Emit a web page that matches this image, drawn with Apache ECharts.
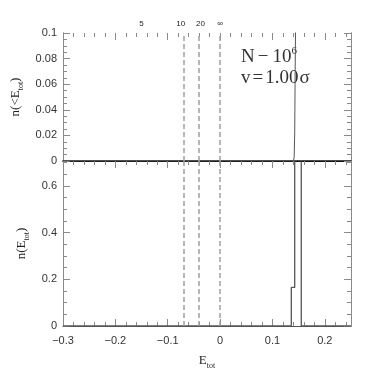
<!DOCTYPE html>
<html><head><meta charset="utf-8">
<script src="https://cdn.jsdelivr.net/npm/echarts@6/dist/echarts.min.js"></script>
<style>html,body{margin:0;padding:0;background:#fff}#c{width:371px;height:371px}</style>
</head><body><div id="c"></div>
<script>
// ---- data ----
const cumE = [-0.3, 0.1400, 0.1415, 0.1425, 0.1432, 0.1440, 0.1450];
const cumN = [0, 0, 0.003, 0.022, 0.06, 0.1, 0.2];
const histEdges = [-0.3, 0.136, 0.1425, 0.155, 0.25];
const histVals = [0, 0.165, 0.83, 0];
const dashE = [-0.075, -0.0375, 0];
const topLabelE = [-0.15, -0.075, -0.0375, 0];
const topLabelText = ['5', '10', '20', '\u221E'];
const annot1 = ['N', '\u2212', '10'];
const annot1Sup = '6';
const annot2 = ['v', '=', '1.00', '\u03C3'];

const xMin = -0.3, xMax = 0.25;
const tickCol = '#8a8a8a', lblCol = '#333';
const sans = 'Liberation Sans';

function fmt(v){ if (Math.abs(v) < 1e-9) return '0'; return String(+v.toFixed(3)).replace('-', '\u2212'); }

function xa(grid, pos, interval, len, extra){
  return Object.assign({
    type:'value', gridIndex:grid, position:pos, min:xMin, max:xMax, interval:interval,
    axisLine:{show:false, onZero:false},
    axisTick:{show:len>0, inside:true, length:len, lineStyle:{color:tickCol}},
    axisLabel:{show:false}, splitLine:{show:false}
  }, extra||{});
}
function ya(grid, pos, max, interval, len, extra){
  return Object.assign({
    type:'value', gridIndex:grid, position:pos, min:0, max:max, interval:interval,
    axisLine:{show:true, onZero:false, lineStyle:{color:tickCol}},
    axisTick:{show:true, inside:true, length:len, lineStyle:{color:tickCol}},
    axisLabel:{show:false}, splitLine:{show:false}
  }, extra||{});
}
const nameRich = {
  n:{fontFamily:'Liberation Serif', fontSize:13, color:'#222', lineHeight:18},
  s:{fontFamily:'Liberation Serif', fontSize:8, color:'#222', lineHeight:18, verticalAlign:'bottom'}
};
const yLbl = {show:true, color:lblCol, fontFamily:sans, fontSize:11, margin:6, showMaxLabel:true, formatter:fmt};
const serifTok = {fontFamily:'Liberation Serif', fontSize:19, fill:'#333', lineHeight:22};

const option = {
  animation:false,
  backgroundColor:'#fff',
  grid:[
    {left:63, right:20, top:33, height:128},
    {left:63, right:20, top:161, height:167}
  ],
  xAxis:[
    xa(0,'bottom',0.1,0,{axisLine:{show:true,onZero:false,lineStyle:{color:'#111',width:1.5}}}),
    xa(0,'top',0.1,7),
    xa(0,'top',0.02,4),
    xa(0,'top',0.1,0,{axisLabel:{show:true, customValues:topLabelE, margin:5, fontFamily:sans, fontSize:8, color:'#222',
        formatter:function(v){ const i = topLabelE.findIndex(t=>Math.abs(t-v)<1e-6); return i>=0?topLabelText[i]:''; }}}),
    xa(1,'bottom',0.1,7,{axisLine:{show:true,onZero:false,lineStyle:{color:'#555'}},
        axisLabel:{show:true, color:lblCol, fontFamily:sans, fontSize:11, margin:9, showMaxLabel:false, formatter:fmt},
        name:'{n|E}{s|tot}', nameLocation:'middle', nameGap:26, nameTextStyle:{rich:nameRich}}),
    xa(1,'bottom',0.02,4),
    xa(1,'top',0.1,7,{axisLine:{show:true,onZero:false,lineStyle:{color:'#111',width:1}}}),
    xa(1,'top',0.02,4)
  ],
  yAxis:[
    ya(0,'left',0.1,0.02,7,{axisLabel:yLbl, name:'{n|n(<E}{s|tot}{n|)}', nameLocation:'middle', nameGap:30, nameTextStyle:{rich:nameRich}}),
    ya(0,'left',0.1,0.005,4),
    ya(0,'right',0.1,0.02,7),
    ya(0,'right',0.1,0.005,4),
    ya(1,'left',0.706,0.2,7,{axisLabel:Object.assign({},yLbl,{showMaxLabel:false}), name:'{n|n(E}{s|tot}{n|)}', nameLocation:'middle', nameGap:29, nameTextStyle:{rich:nameRich}}),
    ya(1,'left',0.706,0.05,4),
    ya(1,'right',0.706,0.2,7),
    ya(1,'right',0.706,0.05,4)
  ],
  series:[
    {type:'line', xAxisIndex:0, yAxisIndex:0, symbol:'none', clip:true,
     data:cumE.map((e,i)=>[e,cumN[i]]), lineStyle:{color:'#555',width:1},
     markLine:{silent:true, symbol:['none','none'], label:{show:false},
       lineStyle:{color:'#a0a0a0', width:1.5, type:[5,3]}, data:dashE.map(v=>({xAxis:v}))}},
    {type:'line', xAxisIndex:4, yAxisIndex:4, symbol:'none', clip:true, step:'end',
     data:histEdges.map((e,i)=>[e, i<histVals.length?histVals[i]:histVals[histVals.length-1]]), lineStyle:{color:'#555',width:1.3},
     markLine:{silent:true, symbol:['none','none'], label:{show:false},
       lineStyle:{color:'#a0a0a0', width:1.5, type:[5,3]}, data:dashE.map(v=>({xAxis:v}))}}
  ],
  graphic:[
    {type:'text', left:241, top:46, style:{
      text:'{a|'+annot1[0]+'}{m|'+annot1[1]+'}{a|'+annot1[2]+'}{b|'+annot1Sup+'}', rich:{
      a:serifTok,
      m:Object.assign({}, serifTok, {padding:[0,4,0,3]}),
      b:{fontFamily:'Liberation Serif', fontSize:11, fill:'#333', lineHeight:22, verticalAlign:'top'}}}},
    {type:'text', left:241, top:69, style:{
      text:'{a|'+annot2[0]+'}{m|'+annot2[1]+'}{a|'+annot2[2]+'}{a|'+annot2[3]+'}', rich:{
      a:Object.assign({}, serifTok, {padding:[0,1,0,0]}),
      m:Object.assign({}, serifTok, {padding:[0,2,0,1]})}}}
  ]
};
echarts.init(document.getElementById('c')).setOption(option);
</script></body></html>
